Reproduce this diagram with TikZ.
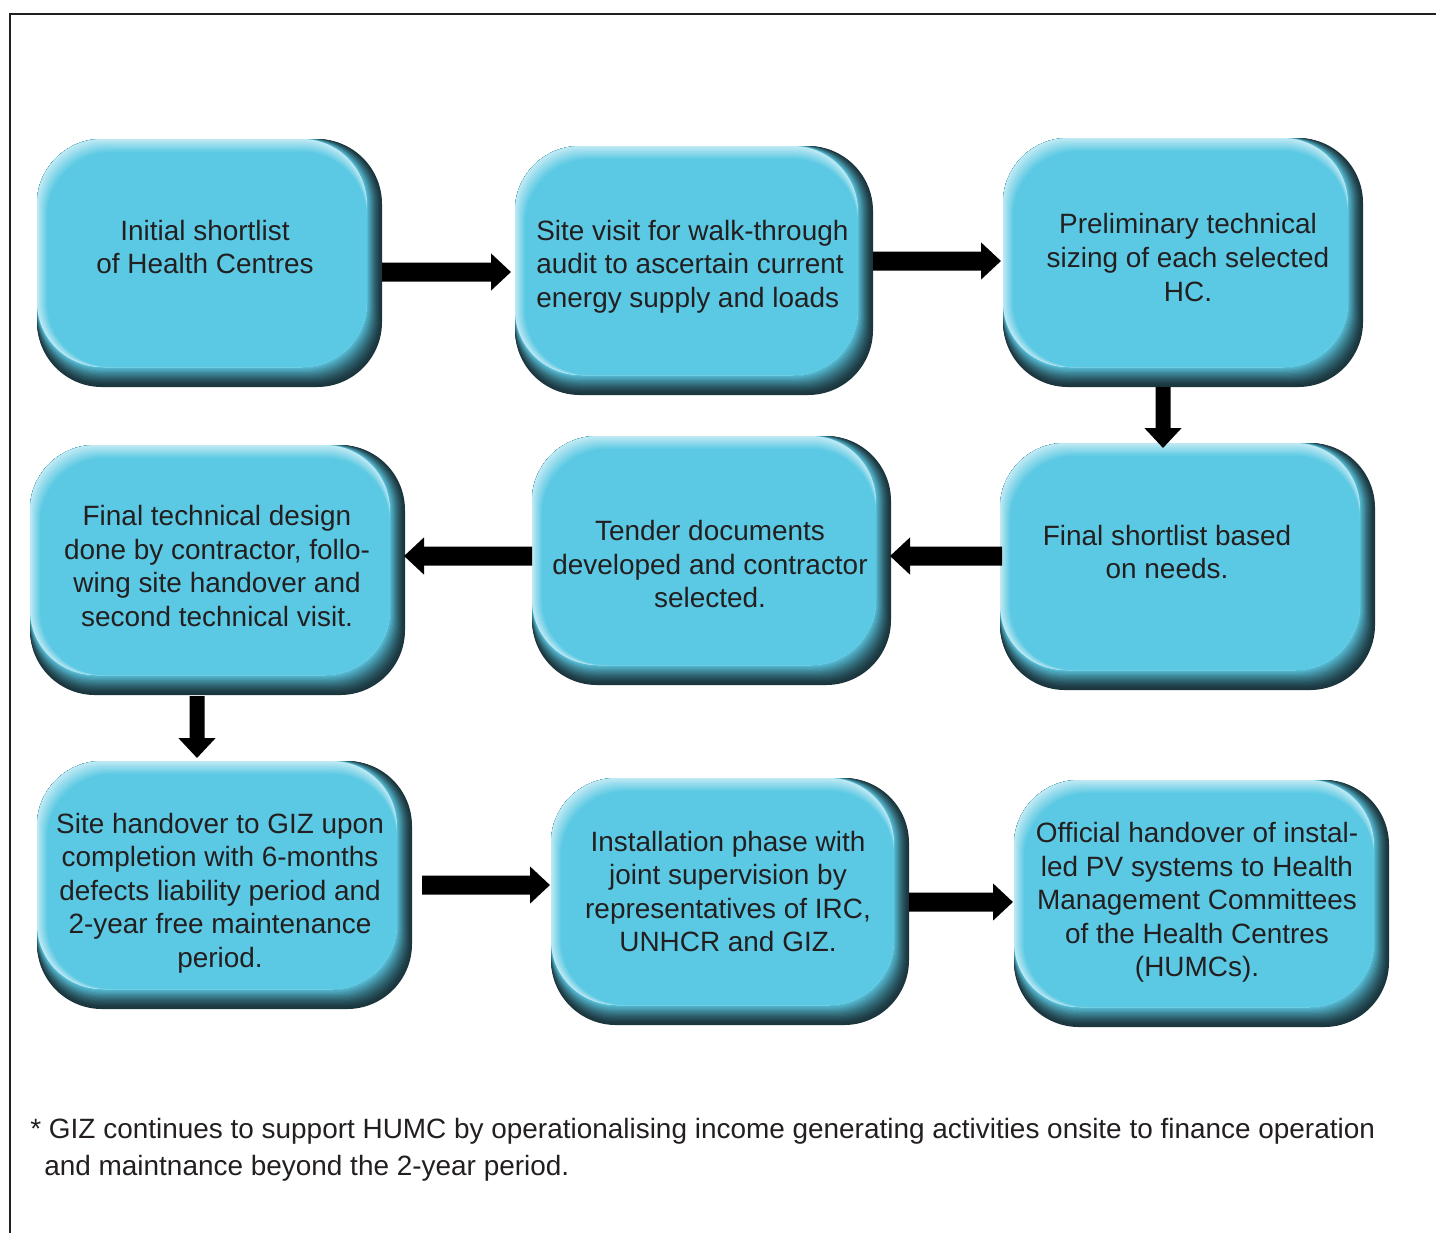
\documentclass[tikz,border=0pt]{standalone}
\usepackage{fontspec}
\setmainfont{Liberation Sans}
\usetikzlibrary{arrows.meta}
\definecolor{boxmain}{HTML}{5BC9E3}
\definecolor{boxlight}{HTML}{BFE9F4}
\definecolor{boxdark}{HTML}{1B353D}
\definecolor{txtcol}{HTML}{231F20}
\newcommand\bevelbox[5]{% x0 y0 x1 y1 name
  \fill[boxdark, rounded corners=1.3cm] (#1,#2) rectangle (#3,#4);
  \foreach \i in {1,...,16}{%
    \pgfmathtruncatemacro\c{100*(\i/16)^1.4}%
    \fill[boxmain!\c!boxdark, rounded corners=1.3cm] (#1,#2) rectangle ({#3-0.95*\i},{#4-1.25*\i});
  }%
  \foreach \j in {0,...,10}{%
    \pgfmathtruncatemacro\c{100-\j*10}%
    \fill[boxlight!\c!boxmain, rounded corners=1.3cm] ({#1+1.0*\j},{#2+1.3*\j}) rectangle ({#3-15.2},{#4-20});
  }%
  \node[boxnode, minimum width={(#3-#1)*0.02cm}, minimum height={(#4-#2)*0.02cm}] (#5) at ({(#1+#3)/2},{(#2+#4)/2}) {};
}
\tikzset{
  boxnode/.style={rectangle, inner sep=0pt, outer sep=0pt},
  txt/.style={font=\fontsize{15.9}{19.07}\selectfont, text=txtcol, align=center, inner sep=0pt},
  foot/.style={font=\fontsize{15.9}{21}\selectfont, text=txtcol, align=left, inner sep=0pt},
  harrow/.style={line width=0.38cm, black, -{Triangle[length=0.4cm,width=0.72cm]}},
  varrow/.style={line width=0.3cm, black, -{Triangle[length=0.4cm,width=0.72cm]}},
  frameline/.style={line width=0.054cm, draw=txtcol}
}
\begin{document}
\begin{tikzpicture}[x=0.02cm, y=-0.02cm]
\useasboundingbox (0,0) rectangle (1436,1232);
\clip (0,0) rectangle (1436,1232);
\draw[frameline] (10,1250) -- (10,14) -- (1450,14);

\bevelbox{37}{139}{382}{387}{b1}
\bevelbox{515}{146}{873}{395}{b2}
\bevelbox{1003}{138}{1363}{387}{b3}
\bevelbox{1000}{443}{1375}{690}{b4}
\bevelbox{532}{436}{891}{685}{b5}
\bevelbox{30}{445}{405}{695}{b6}
\bevelbox{37}{761}{412}{1009}{b7}
\bevelbox{551}{778}{909}{1025}{b8}
\bevelbox{1014}{780}{1389}{1027}{b9}

\node[txt] (t1) at (205,247) {Initial shortlist\\of Health Centres};
\node[txt, align=left, anchor=west] (t2) at (536,266.5) {Site visit for walk-through\\audit to ascertain current\\energy supply and loads};
\node[txt] (t3) at (1188,257.5) {Preliminary technical\\sizing of each selected\\HC.};
\node[txt] (t4) at (1167,552) {Final shortlist based\\on needs.};
\node[txt] (t5) at (710,564) {Tender documents\\developed and contractor\\selected.};
\node[txt] (t6) at (217,566) {Final technical design\\done by contractor, follo-\\wing site handover and\\second technical visit.};
\node[txt] (t7) at (220,893) {Site handover to GIZ upon\\completion with 6-months\\defects liability period and\\2-year free maintenance\\period.};
\node[txt] (t8) at (728,891.5) {Installation phase with\\joint supervision by\\representatives of IRC,\\UNHCR and GIZ.};
\node[txt] (t9) at (1197,902.5) {Official handover of instal-\\led PV systems to Health\\Management Committees\\of the Health Centres\\(HUMCs).};

\draw[harrow, shorten >=0.08cm] ([yshift=-0.18cm]b1.east) -- ([yshift=-0.03cm]b2.west);
\draw[harrow, shorten >=0.04cm] ([yshift=0.19cm]b2.east) -- ([yshift=0.03cm]b3.west);
\draw[varrow, shorten >=-0.1cm] ([xshift=-0.4cm]b3.south) -- ([xshift=-0.49cm]b4.north);
\draw[harrow, shorten <=-0.04cm, shorten >=-0.02cm] ([yshift=0.21cm]b4.west) -- ([yshift=0.09cm]b5.east);
\draw[harrow, shorten >=-0.02cm] ([yshift=0.09cm]b5.west) -- ([yshift=0.28cm]b6.east);
\draw[varrow, shorten <=0.02cm, shorten >=0.06cm] ([xshift=-0.41cm]b6.south) -- ([xshift=-0.55cm]b7.north);
\draw[harrow, shorten <=0.2cm, shorten >=0.02cm] (b7.east) -- ([yshift=0.33cm]b8.west);
\draw[harrow, shorten >=0.02cm] ([yshift=-0.01cm]b8.east) -- ([yshift=0.03cm]b9.west);

\node[foot, anchor=west] (fn) at (30,1149.5) {* GIZ continues to support HUMC by operationalising income generating activities onsite to finance operation\\\hspace*{0.28cm}and maintnance beyond the 2-year period.};
\end{tikzpicture}
\end{document}
